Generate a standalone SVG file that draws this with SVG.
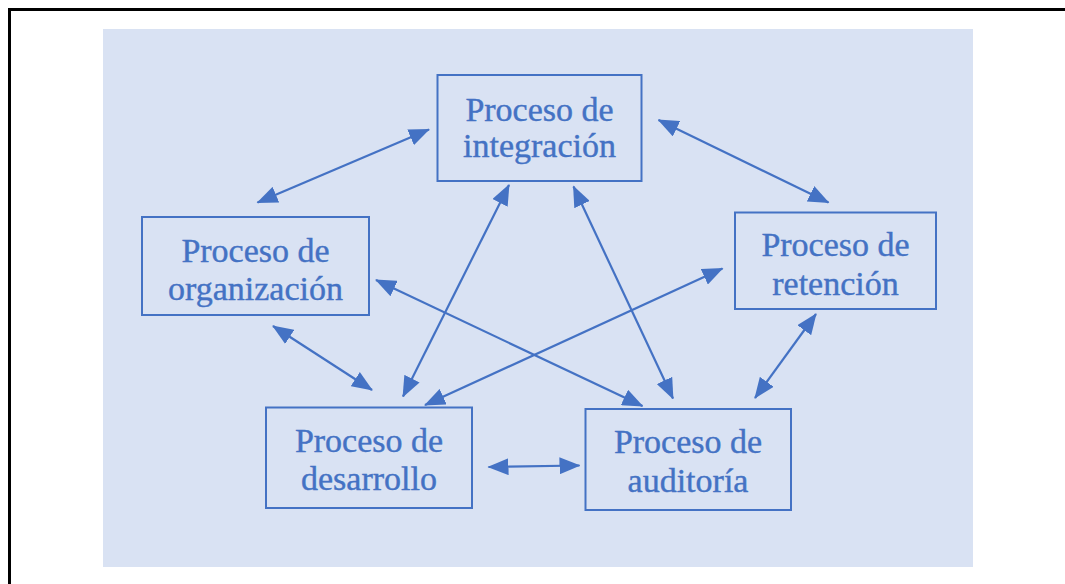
<svg xmlns="http://www.w3.org/2000/svg" width="1065" height="584" viewBox="0 0 1065 584">
  <style>
    .box { fill: none; stroke: #4472C4; stroke-width: 2; }
    .lbl { font-family: "Liberation Serif", "Times New Roman", serif; font-size: 34px; fill: #4472C4; stroke: #4472C4; stroke-width: 0.4; text-anchor: middle; }
    .con { stroke: #4472C4; stroke-width: 2.2; fill: none; marker-start: url(#ah); marker-end: url(#ah); }
  </style>
  <defs>
    <marker id="ah" viewBox="0 0 21 17" refX="20" refY="8.5" markerWidth="21" markerHeight="17" markerUnits="userSpaceOnUse" orient="auto-start-reverse">
      <path d="M0,0 L21,8.5 L0,17 z" fill="#4472C4"/>
    </marker>
  </defs>
  <rect x="0" y="0" width="1065" height="584" fill="#FFFFFF"/>
  <line x1="8" y1="9.5" x2="1065" y2="9.5" stroke="#000000" stroke-width="3"/>
  <line x1="9.5" y1="8" x2="9.5" y2="584" stroke="#000000" stroke-width="3"/>
  <rect x="103" y="29" width="870" height="538" fill="#D9E2F3"/>

  <g id="connectors">
    <line class="con" x1="429" y1="129.5" x2="257.5" y2="202.5"/>
    <line class="con" x1="658.5" y1="120" x2="828.5" y2="202.5"/>
    <line class="con" x1="509" y1="185" x2="403" y2="396.5"/>
    <line class="con" x1="376" y1="280" x2="642.5" y2="406"/>
    <line class="con" x1="722.5" y1="268.5" x2="425" y2="405"/>
    <line class="con" x1="573.5" y1="186.5" x2="673" y2="398.5"/>
    <line class="con" x1="273" y1="326" x2="372" y2="390"/>
    <line class="con" x1="816" y1="314" x2="755" y2="398"/>
    <line class="con" x1="488.5" y1="467" x2="579.5" y2="465.5"/>
  </g>

  <g id="node-integracion">
    <rect class="box" x="437.5" y="75" width="204" height="106"/>
    <text class="lbl" x="539.5" y="121">Proceso de</text>
    <text class="lbl" x="539.5" y="157">integración</text>
  </g>
  <g id="node-organizacion">
    <rect class="box" x="142" y="217" width="227" height="98"/>
    <text class="lbl" x="255.5" y="262">Proceso de</text>
    <text class="lbl" x="255.5" y="300">organización</text>
  </g>
  <g id="node-retencion">
    <rect class="box" x="735" y="212.5" width="201" height="96.5"/>
    <text class="lbl" x="835.5" y="256">Proceso de</text>
    <text class="lbl" x="835.5" y="295">retención</text>
  </g>
  <g id="node-desarrollo">
    <rect class="box" x="266" y="407.5" width="206" height="100.5"/>
    <text class="lbl" x="369" y="452">Proceso de</text>
    <text class="lbl" x="369" y="490">desarrollo</text>
  </g>
  <g id="node-auditoria">
    <rect class="box" x="585.5" y="409" width="205.5" height="101"/>
    <text class="lbl" x="688" y="453">Proceso de</text>
    <text class="lbl" x="688" y="492">auditoría</text>
  </g>
</svg>
